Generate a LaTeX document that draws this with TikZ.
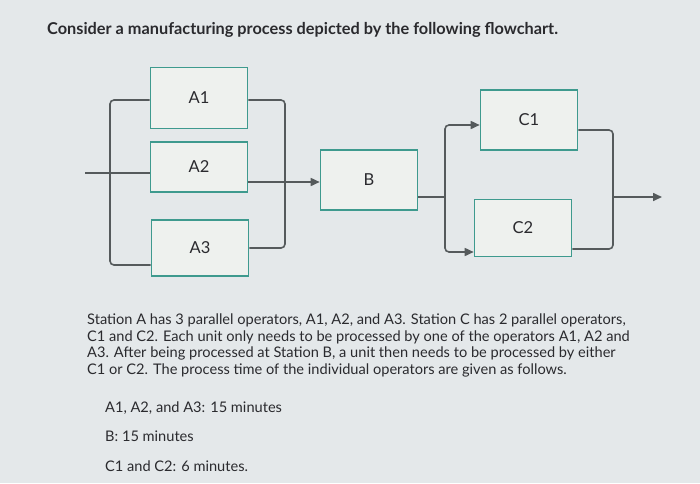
\documentclass[tikz,border=0pt]{standalone}
\usepackage{fontspec}
\setmainfont{Lato}
\usetikzlibrary{arrows.meta}
\definecolor{bg}{HTML}{E4E8EA}
\definecolor{boxfill}{HTML}{EEF1EE}
\definecolor{teal}{HTML}{3E9A8E}
\definecolor{ln}{HTML}{555A5C}
\definecolor{txt}{HTML}{2A2A2E}
\begin{document}
\begin{tikzpicture}[x=1pt,y=-1pt,
  stbox/.style={draw=teal,line width=1.6pt,fill=boxfill,minimum width=97pt,minimum height=#1,inner sep=0pt,font=\fontsize{16.5}{18}\selectfont,text=txt},
  stbox/.default=58pt,
  wire/.style={draw=ln,line width=1.6pt,rounded corners=4pt},
  arr/.style={wire,-{Triangle[length=9pt,width=8pt]}},
  para/.style={anchor=west,inner sep=0pt,font=\fontsize{14.6}{16}\selectfont,text=txt}]
\fill[bg] (0,0) rectangle (700,483);
\useasboundingbox (0,0) rectangle (700,483);
\node[anchor=west,inner sep=0pt,font=\bfseries\fontsize{16.3}{18}\selectfont,text=txt] (title) at (47,30) {Consider a manufacturing process depicted by the following flowchart.};
% boxes
\node[stbox=61pt] (A1) at (199,98) {A1};
\node[stbox=50pt] (A2) at (199,167) {A2};
\node[stbox=56pt] (A3) at (200,248) {A3};
\node[stbox=60pt] (B) at (369,180) {B};
\node[stbox=60pt] (C1) at (529,120) {C1};
\node[stbox=57pt] (C2) at (523,228) {C2};
% junctions
\coordinate (in) at (85,173);
\coordinate (jL1) at (110,100);
\coordinate (jL3) at (110,265);
\coordinate (jR1) at (285,100);
\coordinate (jR3) at (285,248);
\coordinate (jRm) at (285,182);
\coordinate (jB) at (445,197);
\coordinate (out) at (662,197);
% input side
\draw[wire] (in) -- (A2.west |- in);
\draw[wire] (A1.west |- jL1) -- (jL1) -- (jL3) -- (A3.west |- jL3);
% output side of A
\draw[wire] (A1.east |- jR1) -- (jR1) -- (jR3) -- (A3.east |- jR3);
\draw[arr] (A2.east |- jRm) -- (B.west |- jRm);
% B to C
\draw[wire] (B.east |- jB) -- (jB);
\draw[arr] (jB) |- (C1.west |- 0,125);
\draw[arr] (jB) |- (C2.west |- 0,252);
% C to out
\draw[wire] (C1.east |- 0,130) -| (613,197);
\draw[wire] (C2.east |- 0,249) -| (613,197);
\draw[arr] (613,197) -- (out);
% text
\node[para] (p1) at (87,320) {Station A has 3 parallel operators, A1, A2, and A3. Station C has 2 parallel operators,};
\node[para] (p2) at (87,337) {C1 and C2. Each unit only needs to be processed by one of the operators A1, A2 and};
\node[para] (p3) at (87,353) {A3. After being processed at Station B, a unit then needs to be processed by either};
\node[para] (p4) at (87,370) {C1 or C2. The process time of the individual operators are given as follows.};
\node[para] (t1) at (105,408) {A1, A2, and A3: 15 minutes};
\node[para] (t2) at (105,436) {B: 15 minutes};
\node[para] (t3) at (105,466) {C1 and C2: 6 minutes.};
\end{tikzpicture}
\end{document}
